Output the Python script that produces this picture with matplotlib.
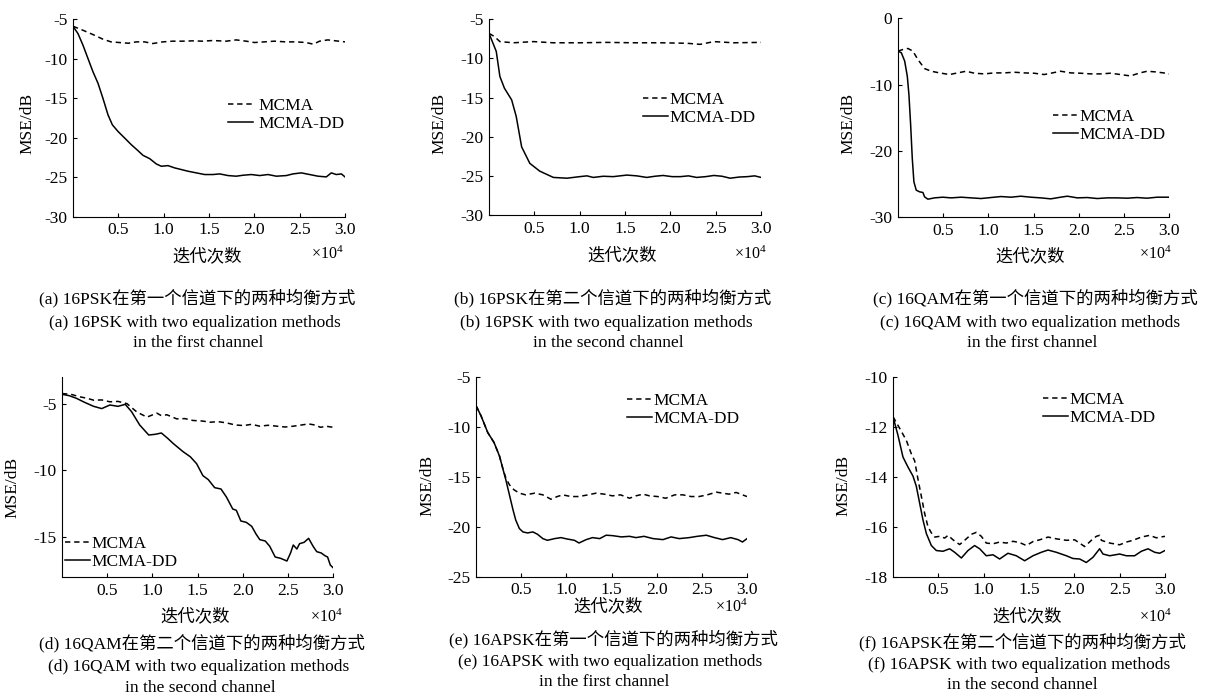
import matplotlib
matplotlib.use("Agg")
import matplotlib.pyplot as plt

plt.rcParams["font.family"] = ["Liberation Serif", "Noto Sans CJK SC"]
plt.rcParams["axes.unicode_minus"] = False
plt.rcParams["mathtext.fontset"] = "custom"
plt.rcParams["mathtext.rm"] = "Liberation Serif"
plt.rcParams["mathtext.default"] = "regular"

# ---- data (iterations in units of 1e4, MSE in dB) ----
a_x_mcma = [0, 0.11, 0.22, 0.33, 0.42, 0.51, 0.61, 0.7, 0.79, 0.88, 0.99, 1.1, 1.21, 1.32, 1.43, 1.54, 1.69,
            1.8, 1.91, 2.0, 2.11, 2.22, 2.35, 2.46, 2.57, 2.65, 2.72, 2.81, 2.9, 3.0]
a_mcma = [-5.88, -6.39, -6.93, -7.52, -7.86, -7.94, -8.03, -7.86, -7.86, -8.07, -7.86, -7.77, -7.77, -7.73,
          -7.77, -7.69, -7.77, -7.61, -7.77, -7.94, -7.86, -7.77, -7.86, -7.86, -7.94, -8.15, -7.77, -7.61,
          -7.73, -7.86]
a_x_dd = [0, 0.055, 0.11, 0.165, 0.22, 0.276, 0.33, 0.386, 0.434, 0.496, 0.57, 0.643, 0.717, 0.772, 0.846,
          0.919, 0.974, 1.048, 1.121, 1.195, 1.268, 1.36, 1.452, 1.544, 1.618, 1.71, 1.8, 1.875, 1.967,
          2.059, 2.15, 2.243, 2.353, 2.426, 2.518, 2.61, 2.702, 2.794, 2.849, 2.904, 2.96, 3.0]
a_dd = [-5.88, -6.81, -8.28, -9.96, -11.64, -13.11, -15.0, -17.1, -18.36, -19.2, -20.04, -20.88, -21.64,
        -22.23, -22.65, -23.32, -23.61, -23.53, -23.82, -24.03, -24.24, -24.45, -24.66, -24.66, -24.58,
        -24.79, -24.87, -24.75, -24.66, -24.79, -24.66, -24.87, -24.79, -24.58, -24.45, -24.66, -24.87,
        -24.96, -24.45, -24.66, -24.58, -24.96]

b_x_mcma = [0, 0.06, 0.12, 0.27, 0.49, 0.71, 1.0, 1.3, 1.59, 1.89, 2.18, 2.33, 2.48, 2.7, 3.0]
b_mcma = [-6.8, -7.2, -7.85, -8.0, -7.85, -8.0, -8.0, -7.95, -8.0, -8.0, -8.06, -8.2, -7.85, -8.0, -7.95]
b_x_dd = [0, 0.044, 0.08, 0.12, 0.17, 0.25, 0.3, 0.36, 0.45, 0.56, 0.71, 0.86, 1.0, 1.08, 1.15, 1.26, 1.37,
          1.52, 1.63, 1.74, 1.83, 1.92, 2.02, 2.11, 2.2, 2.29, 2.39, 2.48, 2.57, 2.66, 2.76, 2.85, 2.93, 3.0]
b_dd = [-6.8, -8.06, -9.1, -12.3, -13.8, -15.3, -17.4, -21.3, -23.4, -24.4, -25.2, -25.3, -25.1, -25.0,
        -25.2, -25.05, -25.1, -24.9, -25.0, -25.2, -25.05, -24.95, -25.1, -25.1, -25.0, -25.2, -25.1, -24.95,
        -25.05, -25.3, -25.15, -25.1, -25.0, -25.2]

c_x_mcma = [0, 0.055, 0.11, 0.165, 0.22, 0.294, 0.368, 0.46, 0.57, 0.66, 0.754, 0.846, 0.956, 1.066, 1.176,
            1.287, 1.397, 1.507, 1.618, 1.71, 1.8, 1.912, 2.022, 2.132, 2.243, 2.353, 2.463, 2.574, 2.665,
            2.757, 2.85, 2.94, 3.0]
c_mcma = [-4.95, -4.7, -4.55, -4.95, -6.21, -7.58, -7.98, -8.23, -8.48, -8.23, -7.98, -8.28, -8.38, -8.23,
          -8.23, -8.13, -8.23, -8.28, -8.48, -8.23, -7.98, -8.23, -8.28, -8.38, -8.38, -8.28, -8.48, -8.69,
          -8.28, -7.98, -8.08, -8.23, -8.38]
c_x_dd = [0, 0.037, 0.074, 0.103, 0.121, 0.14, 0.158, 0.176, 0.202, 0.239, 0.276, 0.294, 0.331, 0.404,
          0.496, 0.588, 0.699, 0.809, 0.919, 1.029, 1.14, 1.25, 1.36, 1.47, 1.58, 1.691, 1.8, 1.875, 1.985,
          2.096, 2.206, 2.316, 2.426, 2.537, 2.647, 2.757, 2.868, 3.0]
c_dd = [-4.95, -5.2, -6.46, -8.74, -11.52, -16.06, -21.11, -24.65, -25.91, -26.16, -26.26, -26.92, -27.27,
        -27.07, -26.97, -27.07, -26.97, -27.07, -27.17, -27.02, -26.87, -26.97, -26.82, -26.97, -27.07,
        -27.22, -26.97, -26.82, -27.07, -27.02, -27.17, -27.07, -27.07, -27.12, -27.02, -27.12, -26.97,
        -26.97]

d_x_mcma = [0, 0.1, 0.2, 0.28, 0.35, 0.44, 0.53, 0.62, 0.72, 0.78, 0.83, 0.94, 1.05, 1.1, 1.16, 1.27, 1.36,
            1.45, 1.55, 1.64, 1.73, 1.82, 1.92, 2.01, 2.1, 2.19, 2.28, 2.38, 2.47, 2.56, 2.65, 2.73, 2.8,
            2.86, 2.93, 3.0]
d_mcma = [-4.24, -4.3, -4.49, -4.6, -4.74, -4.72, -4.86, -4.83, -5.0, -5.35, -5.63, -6.01, -5.71, -5.9,
          -5.83, -6.14, -6.12, -6.26, -6.3, -6.39, -6.35, -6.44, -6.6, -6.64, -6.55, -6.69, -6.62, -6.69,
          -6.75, -6.69, -6.6, -6.52, -6.6, -6.77, -6.7, -6.77]
d_x_dd = [0, 0.08, 0.16, 0.25, 0.35, 0.44, 0.53, 0.62, 0.7, 0.77, 0.86, 0.96, 1.03, 1.1, 1.17, 1.23, 1.34,
          1.42, 1.49, 1.56, 1.62, 1.69, 1.76, 1.82, 1.89, 1.93, 1.98, 2.04, 2.1, 2.15, 2.19, 2.25, 2.3, 2.36,
          2.42, 2.49, 2.53, 2.56, 2.6, 2.63, 2.68, 2.73, 2.78, 2.82, 2.87, 2.91, 2.94, 2.97, 3.0]
d_dd = [-4.3, -4.4, -4.6, -4.9, -5.2, -5.37, -5.1, -5.2, -5.05, -5.6, -6.6, -7.35, -7.3, -7.2, -7.6, -7.98,
        -8.6, -8.98, -9.5, -10.4, -10.7, -11.3, -11.4, -12.0, -12.9, -13.0, -13.8, -13.9, -14.2, -14.8,
        -15.2, -15.3, -15.7, -16.5, -16.6, -16.8, -16.2, -15.6, -15.9, -15.5, -15.4, -15.1, -15.7, -16.1,
        -16.2, -16.4, -16.5, -17.1, -17.3]

e_x_mcma = [0, 0.055, 0.13, 0.2, 0.26, 0.295, 0.33, 0.37, 0.42, 0.48, 0.55, 0.65, 0.74, 0.83, 0.9, 0.96,
            1.05, 1.14, 1.24, 1.33, 1.42, 1.51, 1.6, 1.7, 1.77, 1.85, 1.92, 2.01, 2.1, 2.2, 2.29, 2.38, 2.47,
            2.56, 2.66, 2.73, 2.8, 2.88, 2.95, 3.0]
e_mcma = [-7.84, -8.85, -10.54, -11.55, -12.9, -14.09, -15.1, -15.78, -16.28, -16.62, -16.79, -16.62,
          -16.79, -17.23, -16.96, -16.79, -16.96, -16.96, -16.79, -16.62, -16.72, -16.89, -16.79, -17.13,
          -16.89, -16.72, -16.89, -16.96, -17.13, -16.79, -16.79, -16.96, -16.96, -16.79, -16.52, -16.62,
          -16.72, -16.55, -16.79, -16.96]
e_x_dd = [0, 0.055, 0.13, 0.2, 0.26, 0.295, 0.33, 0.37, 0.41, 0.44, 0.48, 0.52, 0.57, 0.63, 0.68, 0.74,
          0.79, 0.87, 0.94, 1.01, 1.09, 1.14, 1.22, 1.29, 1.37, 1.44, 1.51, 1.61, 1.7, 1.77, 1.86, 1.96,
          2.07, 2.16, 2.25, 2.36, 2.45, 2.55, 2.64, 2.73, 2.82, 2.9, 2.95, 3.0]
e_dd = [-7.84, -8.85, -10.54, -11.55, -12.9, -14.09, -15.27, -16.79, -18.31, -19.32, -20.17, -20.51,
        -20.61, -20.51, -20.74, -21.18, -21.35, -21.18, -21.08, -21.22, -21.35, -21.62, -21.28, -21.08,
        -21.18, -20.84, -20.88, -21.01, -20.95, -21.08, -20.95, -21.18, -21.28, -21.01, -21.18, -21.08,
        -20.95, -20.84, -21.08, -21.28, -21.08, -21.28, -21.52, -21.18]

f_x_mcma = [0, 0.074, 0.147, 0.202, 0.239, 0.276, 0.313, 0.349, 0.386, 0.423, 0.46, 0.515, 0.57, 0.607,
            0.662, 0.735, 0.79, 0.864, 0.919, 0.974, 1.029, 1.103, 1.176, 1.25, 1.324, 1.397, 1.471, 1.544,
            1.618, 1.71, 1.801, 1.912, 2.004, 2.114, 2.188, 2.243, 2.279, 2.298, 2.39, 2.5, 2.574, 2.647,
            2.739, 2.831, 2.904, 3.0]
f_mcma = [-11.58, -12.05, -12.53, -13.07, -13.35, -14.1, -14.78, -15.46, -16.0, -16.24, -16.41, -16.38,
          -16.45, -16.34, -16.52, -16.71, -16.54, -16.3, -16.22, -16.38, -16.65, -16.68, -16.61, -16.65,
          -16.58, -16.63, -16.75, -16.59, -16.52, -16.41, -16.48, -16.54, -16.52, -16.79, -16.54, -16.38,
          -16.34, -16.54, -16.65, -16.72, -16.61, -16.54, -16.41, -16.34, -16.44, -16.38]
f_x_dd = [0, 0.055, 0.11, 0.165, 0.22, 0.257, 0.294, 0.331, 0.368, 0.423, 0.478, 0.551, 0.625, 0.68, 0.754,
          0.827, 0.9, 0.956, 1.029, 1.103, 1.176, 1.268, 1.36, 1.452, 1.544, 1.636, 1.71, 1.801, 1.912,
          1.985, 2.059, 2.132, 2.206, 2.279, 2.316, 2.39, 2.5, 2.574, 2.665, 2.739, 2.813, 2.886, 2.941, 3.0]
f_dd = [-11.58, -12.33, -13.2, -13.6, -13.96, -14.37, -15.05, -15.73, -16.27, -16.75, -16.95, -16.98,
        -16.88, -17.02, -17.25, -16.95, -16.75, -16.88, -17.16, -17.12, -17.29, -17.06, -17.16, -17.36,
        -17.16, -17.02, -16.93, -17.02, -17.16, -17.27, -17.29, -17.43, -17.22, -16.88, -17.09, -17.16,
        -17.09, -17.16, -17.16, -16.98, -16.88, -17.02, -17.06, -16.95]

x_ticks = [0.5, 1.0, 1.5, 2.0, 2.5, 3.0]
x_tick_labels = ["0.5", "1.0", "1.5", "2.0", "2.5", "3.0"]

cap_cn = ["(a) 16PSK在第一个信道下的两种均衡方式", "(b) 16PSK在第二个信道下的两种均衡方式",
          "(c) 16QAM在第一个信道下的两种均衡方式", "(d) 16QAM在第二个信道下的两种均衡方式",
          "(e) 16APSK在第一个信道下的两种均衡方式", "(f) 16APSK在第二个信道下的两种均衡方式"]
cap_en = ["(a) 16PSK with two equalization methods", "(b) 16PSK with two equalization methods",
          "(c) 16QAM with two equalization methods", "(d) 16QAM with two equalization methods",
          "(e) 16APSK with two equalization methods", "(f) 16APSK with two equalization methods"]
cap_ch = ["in the first channel", "in the second channel", "in the first channel",
          "in the second channel", "in the first channel", "in the second channel"]

W, H = 1216, 696
FS = 12.5

# layout per panel (pixel coordinates)
panels = [
    dict(box=(73, 345, 19.3, 216.7), ylim=(-30, -5), yt=[-30, -25, -20, -15, -10, -5],
         leg=(228, 115), htp=0.3, ylab=(27, 123), xlab=(207, 257), x10=(344, 254),
         caps=[(197, 298), (195, 323), (198, 343)]),
    dict(box=(489, 761, 19.3, 215), ylim=(-30, -5), yt=[-30, -25, -20, -15, -10, -5],
         leg=(643, 109), htp=0.1, ylab=(439, 123), xlab=(622, 256), x10=(767, 254),
         caps=[(613, 298), (606, 323), (608, 343)]),
    dict(box=(898, 1169, 18.3, 217.3), ylim=(-30, 0), yt=[-30, -20, -10, 0],
         leg=(1053, 126), htp=0.1, ylab=(848, 123), xlab=(1030, 257), x10=(1172, 254),
         caps=[(1035, 298), (1030, 323), (1032, 343)]),
    dict(box=(62, 333, 377, 577), ylim=(-18, -3), yt=[-15, -10, -5],
         leg=(65, 553), htp=0.1, ylab=(12, 487), xlab=(195, 617), x10=(343, 617),
         caps=[(202, 643), (199, 667), (200, 688)]),
    dict(box=(476, 747, 377.3, 576.7), ylim=(-25, -5), yt=[-25, -20, -15, -10, -5],
         leg=(627, 410), htp=0.1, ylab=(427, 485), xlab=(608, 607), x10=(748, 607),
         caps=[(613, 639), (610, 662), (604, 682)]),
    dict(box=(893, 1165, 377.3, 576.7), ylim=(-18, -10), yt=[-18, -16, -14, -12, -10],
         leg=(1043, 409), htp=0.1, ylab=(843, 485), xlab=(1027, 617), x10=(1172, 617),
         caps=[(1022, 642), (1019, 665), (1022, 685)]),
]

series = [
    (a_x_mcma, a_mcma, a_x_dd, a_dd),
    (b_x_mcma, b_mcma, b_x_dd, b_dd),
    (c_x_mcma, c_mcma, c_x_dd, c_dd),
    (d_x_mcma, d_mcma, d_x_dd, d_dd),
    (e_x_mcma, e_mcma, e_x_dd, e_dd),
    (f_x_mcma, f_mcma, f_x_dd, f_dd),
]


def fx(px):
    return px / W


def fy(py):
    return 1 - py / H


fig = plt.figure(figsize=(W / 100, H / 100), dpi=100)

for i, (p, s) in enumerate(zip(panels, series)):
    l, r, t, b = p["box"]
    ax = fig.add_axes([fx(l), fy(b), (r - l) / W, (b - t) / H])
    xm, ym, xd, yd = s
    ax.plot(xm, ym, color="k", lw=1.1, dashes=(3.5, 2.5), label="MCMA")
    ax.plot(xd, yd, color="k", lw=1.1, label="MCMA-DD")
    ax.set_xlim(0, 3.0)
    ax.set_ylim(*p["ylim"])
    ax.set_xticks(x_ticks)
    ax.set_xticklabels(x_tick_labels)
    ax.set_yticks(p["yt"])
    ax.set_yticklabels([str(v) for v in p["yt"]])
    for side in ("top", "right"):
        ax.spines[side].set_visible(False)
    for side in ("left", "bottom"):
        ax.spines[side].set_linewidth(0.8)
    ax.tick_params(direction="in", length=3, width=0.8, labelsize=FS, pad=4)

    ax.legend(loc="center left", bbox_to_anchor=(fx(p["leg"][0]), fy(p["leg"][1])),
              bbox_transform=fig.transFigure, frameon=False, borderpad=0, borderaxespad=0,
              handlelength=1.45, handletextpad=p["htp"], labelspacing=0.1, fontsize=FS)

    fig.text(fx(p["ylab"][0]), fy(p["ylab"][1]), "MSE/dB", rotation=90, ha="center", va="center", fontsize=FS)
    fig.text(fx(p["xlab"][0]), fy(p["xlab"][1]), "迭代次数", ha="center", va="center", fontsize=FS)
    fig.text(fx(p["x10"][0]), fy(p["x10"][1]), r"×10$^{4}$", ha="right", va="center", fontsize=FS - 1)

    lines = [cap_cn[i], cap_en[i], cap_ch[i]]
    for txt, (cx, cy) in zip(lines, p["caps"]):
        fig.text(fx(cx), fy(cy), txt, ha="center", va="center", fontsize=FS)

fig.savefig("out.png", dpi=100)
